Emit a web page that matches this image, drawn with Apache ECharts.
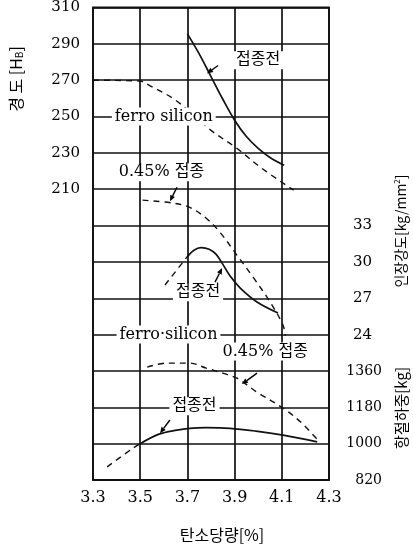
<!DOCTYPE html>
<html>
<head>
<meta charset="utf-8">
<script src="https://cdn.jsdelivr.net/npm/echarts@6/dist/echarts.min.js"></script>
<style>
  html, body { margin: 0; padding: 0; background: #fff; }
  #c { width: 413px; height: 547px; }
</style>
</head>
<body>
<div id="c"></div>
<script>
// Carbon equivalent ticks and the labelled values on each vertical scale
const carbonTicks = [3.3, 3.5, 3.7, 3.9, 4.1, 4.3];
const hardnessTicks = [210, 230, 250, 270, 290, 310];
const tensileTicks = [24, 27, 30, 33];
const loadTicks = [820, 1000, 1180, 1360];

// Hardness HB: before inoculation / ferro silicon 0.45 % inoculated
const hardnessBefore = [[3.70, 295.5], [3.75, 284.5], [3.80, 272], [3.85, 259.5], [3.90, 248], [3.95, 239], [4.00, 232.5], [4.05, 227.5], [4.11, 223.2]];
const hardnessInoc = [[3.30, 270], [3.50, 269.5], [3.54, 267], [3.65, 259], [3.80, 242.4], [3.91, 232.5], [4.01, 222], [4.15, 209.5]];

// Tensile strength kg/mm2
const tensileBefore = [[3.698, 30.4], [3.728, 30.97], [3.758, 31.18], [3.792, 31.05], [3.821, 30.64], [3.847, 29.9], [3.881, 28.83], [3.924, 27.84], [3.995, 26.69], [4.084, 25.78]];
const tensileBeforeExt = [[3.605, 28.1], [3.698, 30.4]];
const tensileInoc = [[3.51, 35.1], [3.64, 34.85], [3.71, 34.5], [3.78, 33.6], [3.84, 32.4], [3.91, 30.55], [3.98, 28.7], [4.05, 26.7], [4.105, 24.8], [4.115, 23.9]];

// Transverse load kg
const loadBefore = [[3.50, 1000], [3.58, 1047], [3.655, 1067], [3.71, 1076], [3.78, 1079], [3.88, 1076], [3.99, 1062], [4.105, 1042], [4.25, 1009]];
const loadBeforeExt = [[3.36, 885], [3.47, 978], [3.50, 1000]];
const loadInoc = [[3.53, 1379], [3.61, 1399], [3.71, 1399], [3.78, 1374], [3.85, 1349], [3.91, 1324], [3.995, 1255], [4.105, 1176], [4.18, 1107], [4.26, 1008]];

// Curve captions and pointer arrows, placed in data space (axis index, x, y)
const captions = [
  { axis: 0, at: [4.0, 281], text: '접종전' },
  { axis: 0, at: [3.60, 250], text: 'ferro silicon' },
  { axis: 0, at: [3.59, 219.3], text: '0.45% 접종' },
  { axis: 1, at: [3.745, 27.5], text: '접종전' },
  { axis: 1, at: [3.62, 24], text: 'ferro·silicon' },
  { axis: 1, at: [4.03, 22.6], text: '0.45% 접종' },
  { axis: 2, at: [3.73, 1185], text: '접종전' }
];
const pointers = [
  { axis: 0, from: [3.83, 278.1], to: [3.783, 273.7] },
  { axis: 0, from: [3.656, 211.1], to: [3.626, 203.4] },
  { axis: 1, from: [3.817, 28.33], to: [3.847, 29.49] },
  { axis: 2, from: [3.995, 1349], to: [3.931, 1295] },
  { axis: 2, from: [3.626, 1117], to: [3.584, 1052] }
];

const SERIF = '"DejaVu Serif", "Noto Sans CJK KR", serif';
const KR = '"Noto Sans CJK KR", "DejaVu Serif", sans-serif';
const INK = '#111';

function pick(list) {
  return v => list.some(t => Math.abs(t - v) < 1e-6) ? String(v) : '';
}

function curve(data, axis, dashed) {
  return {
    type: 'line',
    xAxisIndex: 0,
    yAxisIndex: axis,
    data: data,
    symbol: 'none',
    smooth: 0.35,
    silent: true,
    lineStyle: { color: INK, width: dashed ? 1.4 : 1.7, type: dashed ? [6, 5] : 'solid' },
    z: 3
  };
}

const chart = echarts.init(document.getElementById('c'), null, { renderer: 'canvas' });

chart.setOption({
  animation: false,
  backgroundColor: '#fff',
  grid: { left: 93, right: 84, top: 7, bottom: 67, show: true, borderColor: INK, borderWidth: 1.8 },
  xAxis: {
    type: 'value',
    min: carbonTicks[0],
    max: carbonTicks[carbonTicks.length - 1],
    interval: 0.2,
    axisLine: { show: false },
    axisTick: { show: false },
    splitLine: { show: true, lineStyle: { color: INK, width: 1.7 } },
    axisLabel: {
      formatter: v => v.toFixed(1),
      fontFamily: SERIF, fontSize: 16, color: '#000', margin: 10
    }
  },
  yAxis: [
    {
      type: 'value', position: 'left',
      min: 50, max: 310, interval: 20,
      axisLine: { show: false }, axisTick: { show: false },
      splitLine: { show: true, lineStyle: { color: INK, width: 1.7 } },
      axisLabel: { formatter: pick(hardnessTicks), fontFamily: SERIF, fontSize: 15, color: '#000', margin: 13 }
    },
    {
      type: 'value', position: 'right',
      min: 12, max: 51, interval: 3,
      axisLine: { show: false }, axisTick: { show: false }, splitLine: { show: false },
      axisLabel: { formatter: pick(tensileTicks), fontFamily: SERIF, fontSize: 15, color: '#000', margin: 24, align: 'left' }
    },
    {
      type: 'value', position: 'right',
      min: 820, max: 3160, interval: 180,
      axisLine: { show: false }, axisTick: { show: false }, splitLine: { show: false },
      axisLabel: { formatter: pick(loadTicks), fontFamily: SERIF, fontSize: 14, color: '#000', margin: 53, align: 'right' }
    }
  ],
  series: [
    curve(hardnessBefore, 0, false),
    curve(hardnessInoc, 0, true),
    curve(tensileBefore, 1, false),
    curve(tensileBeforeExt, 1, true),
    curve(tensileInoc, 1, true),
    curve(loadBefore, 2, false),
    curve(loadBeforeExt, 2, true),
    curve(loadInoc, 2, true)
  ]
});

function px(axis, pt) {
  return chart.convertToPixel({ xAxisIndex: 0, yAxisIndex: axis }, pt);
}

const graphics = [];

// axis titles
graphics.push({
  type: 'text', x: 16, y: 79, rotation: Math.PI / 2, z: 50,
  style: {
    text: '{a|경 도 [H}{b|B}{a|]}', align: 'center', verticalAlign: 'middle',
    rich: {
      a: { fontFamily: KR, fontSize: 16, fill: '#000' },
      b: { fontFamily: KR, fontSize: 10, fill: '#000', padding: [6, 0, 0, 0] }
    }
  }
});
graphics.push({
  type: 'text', x: 401, y: 231, rotation: Math.PI / 2, z: 50,
  style: {
    text: '{a|인장강도[kg/mm}{s|2}{a|]}', align: 'center', verticalAlign: 'middle',
    rich: {
      a: { fontFamily: KR, fontSize: 14, fill: '#000' },
      s: { fontFamily: KR, fontSize: 8, fill: '#000', padding: [0, 0, 8, 0] }
    }
  }
});
graphics.push({
  type: 'text', x: 401, y: 408, rotation: Math.PI / 2, z: 50,
  style: { text: '항절하중[kg]', align: 'center', verticalAlign: 'middle', fontFamily: KR, fontSize: 15, fill: '#000' }
});
graphics.push({
  type: 'text', x: 222, y: 535, z: 50,
  style: { text: '탄소당량[%]', align: 'center', verticalAlign: 'middle', fontFamily: KR, fontSize: 16, fill: '#000' }
});

// curve captions with a paper-white backing that breaks the grid lines
captions.forEach(c => {
  const p = px(c.axis, c.at);
  graphics.push({
    type: 'text', x: p[0], y: p[1], z: 60,
    style: {
      text: c.text, align: 'center', verticalAlign: 'middle',
      fontFamily: SERIF, fontSize: 16, fill: '#000',
      backgroundColor: '#fff', padding: [1, 3, 1, 3]
    }
  });
});

// pointer arrows from captions to their curves
pointers.forEach(a => {
  const s = px(a.axis, a.from);
  const e = px(a.axis, a.to);
  const dx = e[0] - s[0], dy = e[1] - s[1];
  const len = Math.hypot(dx, dy) || 1;
  const ux = dx / len, uy = dy / len;
  const head = 6, half = 2.6;
  const bx = e[0] - ux * head, by = e[1] - uy * head;
  graphics.push({
    type: 'line', z: 61,
    shape: { x1: s[0], y1: s[1], x2: bx, y2: by },
    style: { stroke: '#000', lineWidth: 1.4 }
  });
  graphics.push({
    type: 'polygon', z: 61,
    shape: { points: [[e[0], e[1]], [bx - uy * half, by + ux * half], [bx + uy * half, by - ux * half]] },
    style: { fill: '#000' }
  });
});

chart.setOption({ graphic: graphics });
</script>
</body>
</html>
